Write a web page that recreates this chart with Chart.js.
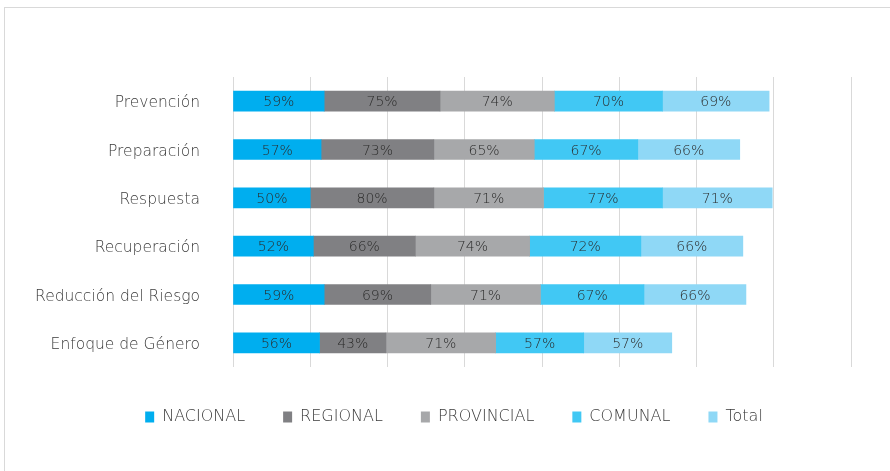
<!DOCTYPE html>
<html lang="es">
<head>
<meta charset="UTF-8">
<title>Fases de gestión del riesgo</title>
<script src="https://cdn.jsdelivr.net/npm/chart.js@4"></script>
<style>
    html, body {
        margin: 0;
        background: #fff;
        overflow: hidden;
    }
    .marco {
        position: absolute;
        left: 4px;
        top: 7px;
        width: 930px;
        height: 520px;
        border: 1px solid #d9d9d9;
    }
    #grafico {
        position: absolute;
        left: 0;
        top: 0;
    }
</style>
</head>
<body>
<div class="marco"></div>
<canvas id="grafico" width="890" height="471"></canvas>

<script>
// datos
const categorias = ['Prevención', 'Preparación', 'Respuesta', 'Recuperación', 'Reducción del Riesgo', 'Enfoque de Género'];
const series = ['NACIONAL', 'REGIONAL', 'PROVINCIAL', 'COMUNAL', 'Total'];
const nacional   = [59, 57, 50, 52, 59, 56];
const regional   = [75, 73, 80, 66, 69, 43];
const provincial = [74, 65, 71, 74, 71, 71];
const comunal    = [70, 67, 77, 72, 67, 57];
const total      = [69, 66, 71, 66, 66, 57];
const ejeMax = 400;
const ejePaso = 50;

const colores = ['#00aeef', '#808083', '#a7a8aa', '#41c8f4', '#8fd8f6'];
const valores = [nacional, regional, provincial, comunal, total];
const fuente = 'DejaVu Sans';

// texto con el porcentaje en medio de cada tramo
const etiquetas = {
    id: 'etiquetas',
    afterDatasetsDraw(chart) {
        const ctx = chart.ctx;
        ctx.save();
        ctx.font = '200 14px "' + fuente + '"';
        ctx.fillStyle = '#2b2b2b';
        ctx.textAlign = 'center';
        ctx.textBaseline = 'middle';
        chart.data.datasets.forEach((ds, i) => {
            chart.getDatasetMeta(i).data.forEach((barra, j) => {
                ctx.fillText(ds.data[j] + '%', (barra.x + barra.base) / 2, barra.y + 1.5);
            });
        });
        ctx.restore();
    }
};

// la leyenda del original va algo corrida a la derecha
const moverLeyenda = {
    id: 'moverLeyenda',
    afterLayout(chart) {
        chart.legend.left += 16;
        chart.legend.right += 16;
    }
};

new Chart(document.getElementById('grafico'), {
    type: 'bar',
    data: {
        labels: categorias,
        datasets: series.map((nombre, i) => ({
            label: nombre,
            data: valores[i],
            backgroundColor: colores[i],
            borderWidth: 0,
            barThickness: 20
        }))
    },
    options: {
        indexAxis: 'y',
        responsive: false,
        devicePixelRatio: 1,
        animation: false,
        layout: {
            padding: { top: 77, right: 39, left: 25, bottom: 36 }
        },
        scales: {
            x: {
                stacked: true,
                min: 0,
                max: ejeMax,
                ticks: { display: false, stepSize: ejePaso },
                grid: { color: '#d9d9d9', lineWidth: 1, drawTicks: false },
                border: { display: false },
                afterFit: (s) => { s.height = 4; }
            },
            y: {
                stacked: true,
                grid: { display: false, drawTicks: false },
                border: { display: false },
                ticks: {
                    color: '#3a3a3a',
                    padding: 33,
                    labelOffset: 2,
                    font: { family: fuente, size: 15.5, weight: '200' }
                },
                afterFit: (s) => { s.width = 208; }
            }
        },
        plugins: {
            legend: {
                position: 'bottom',
                labels: {
                    boxWidth: 9,
                    boxHeight: 11,
                    padding: 38,
                    color: '#3a3a3a',
                    font: { family: fuente, size: 16, weight: '200' }
                }
            },
            tooltip: { enabled: false }
        }
    },
    plugins: [etiquetas, moverLeyenda]
});
</script>
</body>
</html>
